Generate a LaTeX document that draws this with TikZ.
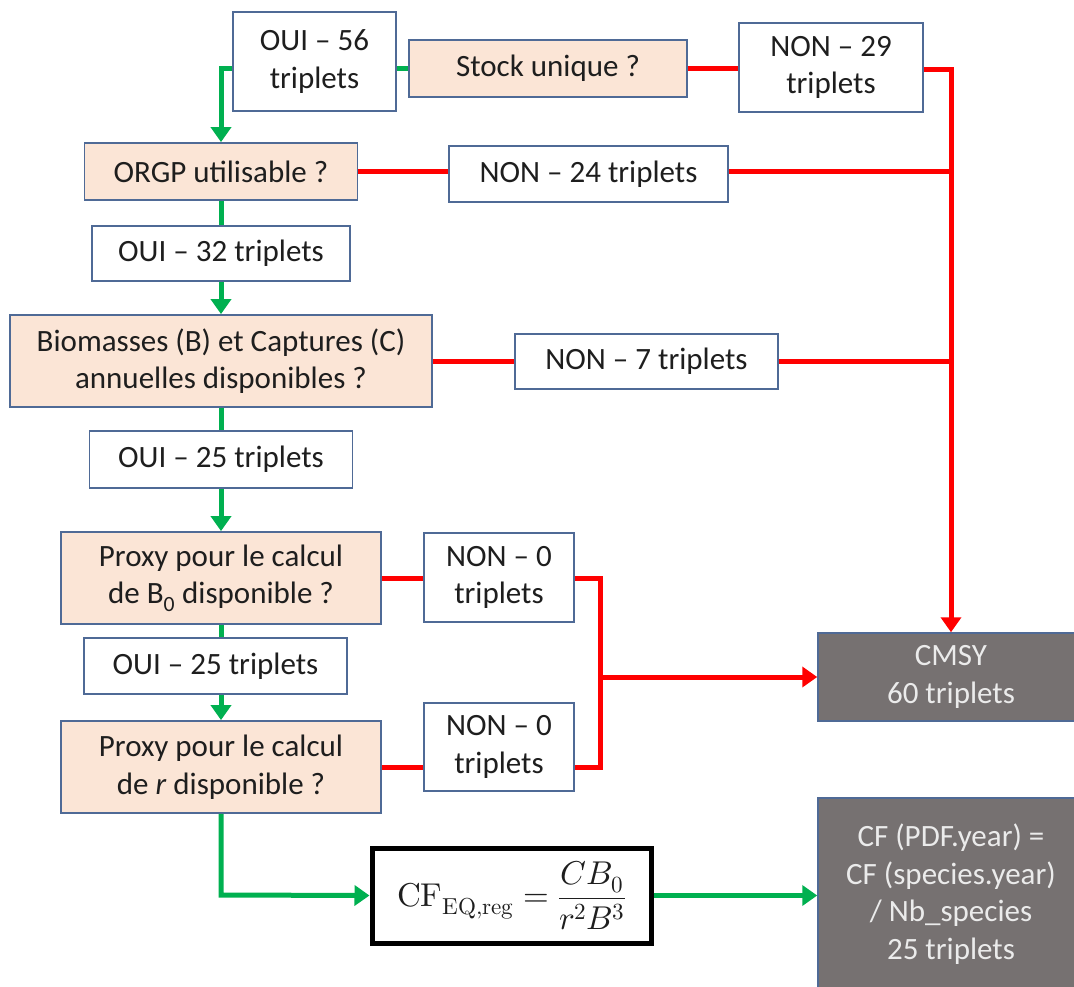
\documentclass[tikz,border=0pt]{standalone}
\usepackage{fontspec}
\usepackage{unicode-math}
\setmainfont{Carlito}
\setmathfont{Latin Modern Math}
\usetikzlibrary{arrows.meta}
\definecolor{boxline}{HTML}{4F6A96}
\definecolor{peach}{HTML}{FBE5D6}
\definecolor{okgreen}{HTML}{00B050}
\definecolor{nored}{HTML}{FF0000}
\definecolor{resgray}{HTML}{767171}
\definecolor{inkdark}{HTML}{1E1E1E}
\tikzset{
  txt/.style={font=\fontsize{31}{37.5}\selectfont, text=inkdark, align=center, inner sep=0pt},
  answer/.style={txt, draw=boxline, line width=1.8pt, fill=white},
  question/.style={txt, draw=boxline, line width=1.8pt, fill=peach},
  result/.style={txt, draw=boxline, line width=1.5pt, fill=resgray, text=white!92!black},
  eqbox/.style={txt, draw=black, line width=5pt, fill=white},
  yes/.style={draw=okgreen, line width=5pt},
  no/.style={draw=nored, line width=5pt},
  tip/.style={-{Triangle[length=15pt,width=20pt]}}
}
\begin{document}
\begin{tikzpicture}[x=1pt,y=-1pt]
\useasboundingbox (0,0) rectangle (1074,986);
\begin{scope}
\clip (0,0) rectangle (1074,986);

% answers and questions
\node[answer, minimum width=163pt, minimum height=99pt] (oui56) at (314.5,61.5) {OUI – 56\\triplets};
\node[question, minimum width=278pt, minimum height=57pt] (stock) at (548,68.5) {Stock unique ?};
\node[answer, minimum width=184pt, minimum height=89pt] (non29) at (831,67.5) {NON – 29\\triplets};

\node[question, minimum width=273pt, minimum height=57pt] (orgp) at (221,171.5) {ORGP utilisable ?};
\node[answer, minimum width=279pt, minimum height=56pt] (non24) at (588.5,174) {NON – 24 triplets};

\node[answer, minimum width=258pt, minimum height=55pt] (oui32) at (221,253.5) {OUI – 32 triplets};

\node[question, minimum width=422pt, minimum height=92pt] (bio) at (221,361) {Biomasses (B) et Captures (C)\\annuelles disponibles ?};
\node[answer, minimum width=263pt, minimum height=55pt] (non7) at (646.5,361.5) {NON – 7 triplets};

\node[answer, minimum width=263pt, minimum height=57pt] (oui25a) at (221,459.5) {OUI – 25 triplets};

\node[question, minimum width=320pt, minimum height=92pt] (proxyb) at (221,578) {Proxy pour le calcul\\de B\textsubscript{0} disponible ?};
\node[answer, minimum width=150pt, minimum height=89pt] (non0a) at (499,577.5) {NON – 0\\triplets};

\node[answer, minimum width=263pt, minimum height=56pt] (oui25b) at (215.5,666) {OUI – 25 triplets};

\node[question, minimum width=320pt, minimum height=92pt] (proxyr) at (221,767) {Proxy pour le calcul\\de \textit{r} disponible ?};
\node[answer, minimum width=150pt, minimum height=88pt] (non0b) at (499,747) {NON – 0\\triplets};

\node[eqbox, minimum width=279pt, minimum height=95pt] (eq) at (511.5,895.5)
  {\fontsize{33}{38}\selectfont$\displaystyle \symup{CF}_{\symup{EQ,reg}} = \frac{CB_0}{r^2B^3}$};

\node[result, minimum width=266pt, minimum height=88pt] (cmsy) at (951,677) {CMSY\\60 triplets};
\node[result, minimum width=266pt, minimum height=192pt] (cf) at (951,894) {CF (PDF.year) =\\CF (species.year)\\/ Nb\_species\\25 triplets};

% junction points of the connectors
\coordinate (trunk) at (951,69);
\coordinate (fork) at (600,677);
\coordinate (bend) at (221,895);

% "oui" path
\draw[yes] (oui56.east |- stock.west) -- (stock.west);
\draw[yes, tip] (oui56.west |- stock.west) -| (orgp.north);
\draw[yes] (orgp.south) -- (oui32.north);
\draw[yes, tip] (oui32.south) -- (bio.north);
\draw[yes] (bio.south) -- (oui25a.north);
\draw[yes, tip] (oui25a.south) -- (proxyb.north);
\draw[yes] (proxyb.south) -- (proxyb.south |- oui25b.north);
\draw[yes, tip] (proxyr.north |- oui25b.south) -- (proxyr.north);
\draw[yes, tip] (proxyr.south) -- (bend) -- (eq.west);
\draw[yes, tip] (eq.east) -- (cf.west |- eq.east);

% "non" path
\draw[no] (stock.east) -- (non29.west |- stock.east);
\draw[no, tip] (non29.east |- trunk) -- (trunk) -- (cmsy.north);
\draw[no] (orgp.east) -- (non24.west |- orgp.east);
\draw[no] (non24.east |- orgp.east) -- (trunk |- orgp.east);
\draw[no] (bio.east |- non7.west) -- (non7.west);
\draw[no] (non7.east) -- (trunk |- non7.east);
\draw[no] (proxyb.east) -- (non0a.west |- proxyb.east);
\draw[no] (proxyr.east) -- (non0b.west |- proxyr.east);
\draw[no] (non0a.east |- proxyb.east) -| (fork) |- (non0b.east |- proxyr.east);
\draw[no, tip] (fork) -- (cmsy.west);
\end{scope}
\end{tikzpicture}
\end{document}
